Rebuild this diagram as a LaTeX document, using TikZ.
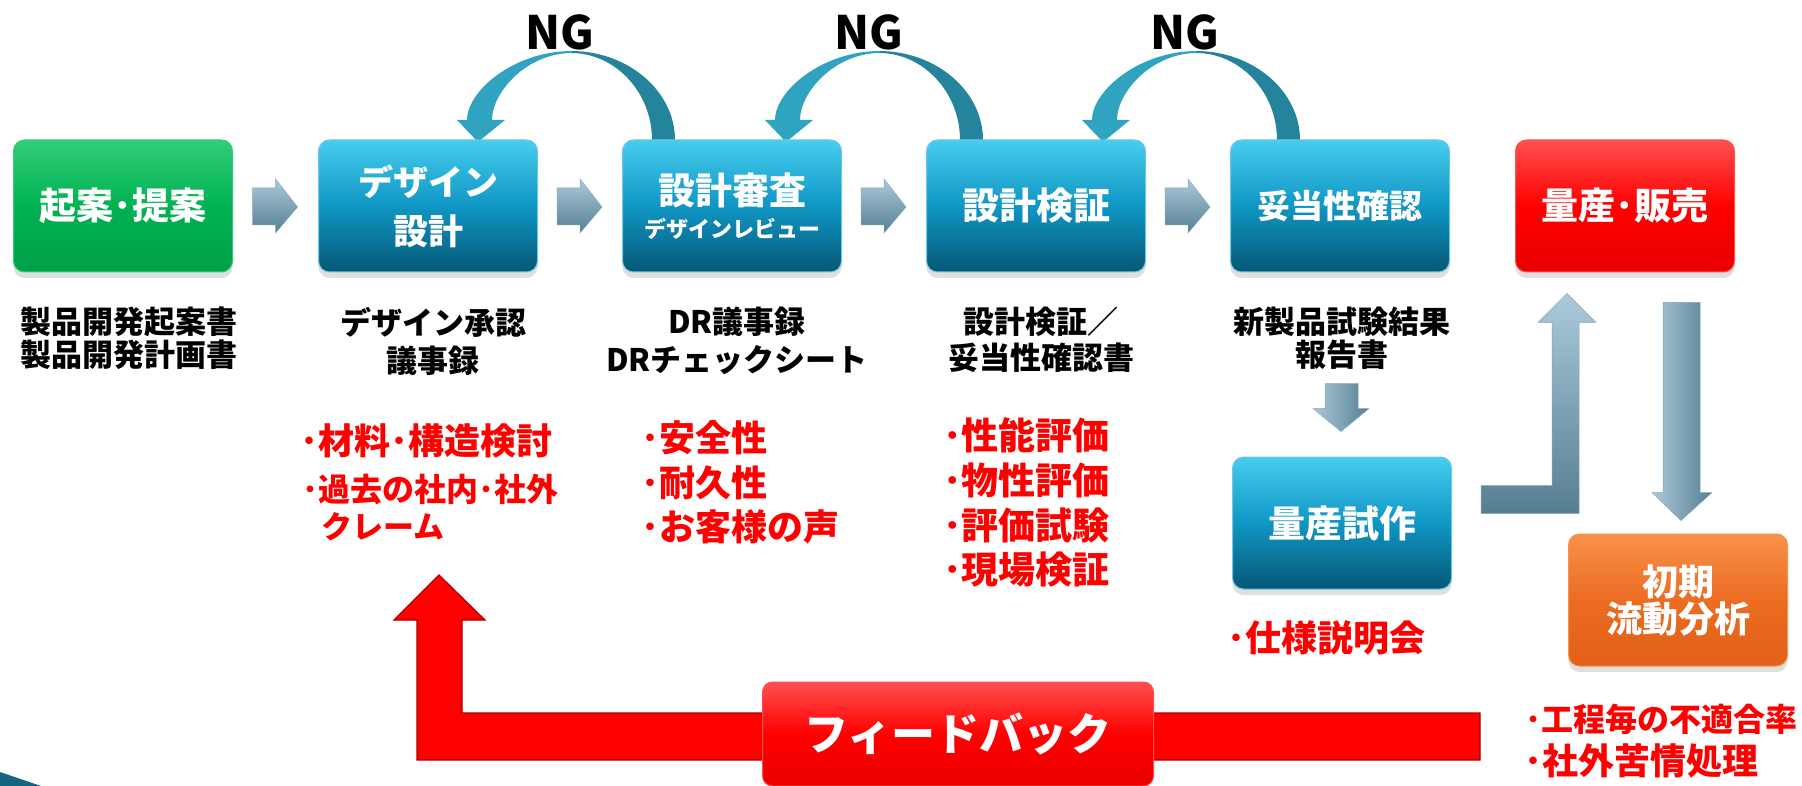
\documentclass[tikz,border=0pt]{standalone}
\usepackage{fontspec}
\setmainfont{Noto Sans CJK JP}
\usetikzlibrary{arrows.meta,calc,shadows}
\definecolor{bluetop}{RGB}{70,205,238}
\definecolor{bluemid}{RGB}{16,150,196}
\definecolor{bluebot}{RGB}{5,88,118}
\definecolor{blueedge}{RGB}{110,200,228}
\definecolor{grntop}{RGB}{50,205,120}
\definecolor{grnmid}{RGB}{0,178,82}
\definecolor{grnbot}{RGB}{0,160,72}
\definecolor{redtop}{RGB}{255,80,80}
\definecolor{redmid}{RGB}{255,0,0}
\definecolor{redbot}{RGB}{232,0,0}
\definecolor{orgtop}{RGB}{248,145,75}
\definecolor{orgmid}{RGB}{236,108,34}
\definecolor{orgbot}{RGB}{226,96,24}
\definecolor{nglight}{RGB}{47,163,192}
\definecolor{ngdark}{RGB}{36,132,156}
\definecolor{chevtop}{RGB}{170,202,218}
\definecolor{chevbot}{RGB}{86,126,146}
\definecolor{fbred}{RGB}{255,0,0}
\definecolor{fbdark}{RGB}{170,0,0}
\definecolor{txtred}{RGB}{255,0,0}
\definecolor{cornerteal}{RGB}{20,100,130}
\newcommand{\myfs}[2]{\fontsize{#1}{#2}\selectfont}
\begin{document}
\begin{tikzpicture}[x=1pt,y=-1pt,
  procbox/.style={rounded corners=11pt, minimum width=219pt, minimum height=132pt,
    inner sep=0pt, text=white, align=center,
    drop shadow={shadow xshift=0pt,shadow yshift=-6pt,opacity=0.25}},
  bluebox/.style={procbox, top color=bluetop, bottom color=bluebot, middle color=bluemid, draw=blueedge, line width=1pt},
  greenbox/.style={procbox, top color=grntop, bottom color=grnbot, middle color=grnmid, draw=grntop, line width=1pt},
  redbox/.style={procbox, top color=redtop, bottom color=redbot, middle color=redmid, draw=redtop, line width=1pt},
  orangebox/.style={procbox, top color=orgtop, bottom color=orgbot, middle color=orgmid, draw=orgtop, line width=1pt},
  lbl/.style={inner sep=0pt, align=center, text=black},
  redtxt/.style={inner sep=0pt, anchor=west, text=txtred},
  nglbl/.style={inner sep=0pt, text=black, font=\bfseries\myfs{46}{50}},
  ngleft/.style={fill=nglight},
  ngright/.style={fill=ngdark},
  chevron/.style={top color=chevtop, bottom color=chevbot, draw=chevbot!70, line width=0.5pt},
  steelv/.style={top color=chevtop, bottom color=chevbot, draw=chevbot!70, line width=0.5pt},
  steelh/.style={left color=chevtop, right color=chevbot, draw=chevbot!70, line width=0.5pt},
  fbarrow/.style={fill=fbred, draw=fbdark, line width=1.2pt},
  fbbox/.style={rounded corners=10pt, minimum width=391pt, minimum height=104pt, inner sep=0pt,
    top color=redtop, bottom color=redbot, middle color=redmid, draw=redtop, line width=1pt, text=white}
]
\useasboundingbox (0,0) rectangle (1802,786);
\fill[white] (0,0) rectangle (1802,786);

% NG loops (tail outer edge on the top of the next box)
\coordinate (t1) at (675,140);
\coordinate (t2) at (983,140);
\coordinate (t3) at (1300,140);
\foreach \t in {t1,t2,t3}{
  \begin{scope}[shift={(\t)}]
    \path[ngright] (0,6) -- (0,0) .. controls (0,-49) and (-47,-89) .. (-104,-89)
      -- (-104,-87) .. controls (-60,-87) and (-23,-48) .. (-23,0) -- (-23,6) -- cycle;
    \path[ngleft] (-103,-89) .. controls (-161,-89) and (-208,-49) .. (-208,-20)
      -- (-183,-20) .. controls (-183,-48) and (-148,-87) .. (-103,-87) -- cycle;
    \path[ngleft] (-218,-20) -- (-170,-20) -- (-197,2) -- cycle;
  \end{scope}
}
\node[nglbl] (ng1) at (560,32) {NG};
\node[nglbl] (ng2) at (869,32) {NG};
\node[nglbl] (ng3) at (1185,32) {NG};

% boxes
\node[greenbox, font=\bfseries\myfs{37}{40}] (b1) at (123,206) {起案･提案};
\node[bluebox, font=\bfseries\myfs{35}{49}] (b2) at (428,206) {デザイン\\設計};
\node[bluebox, font=\bfseries\myfs{37}{33}] (b3) at (732,206) {{\bfseries\myfs{37}{33}設計審査}\\{\bfseries\myfs{22}{33}デザインレビュー}};
\node[bluebox, font=\bfseries\myfs{37}{40}] (b4) at (1036,206) {設計検証};
\node[bluebox, font=\bfseries\myfs{33}{40}] (b5) at (1340,206) {妥当性確認};
\node[redbox, font=\bfseries\myfs{37}{40}] (b6) at (1625,206) {量産･販売};
\node[bluebox, font=\bfseries\myfs{37}{40}] (b7) at (1342,523) {量産試作};
\node[orangebox, font=\bfseries\myfs{36}{37}] (b8) at (1678,600) {初期\\流動分析};

% chevrons between the boxes
\foreach \a/\b in {b1/b2,b2/b3,b3/b4,b4/b5}{
  \begin{scope}[shift={($(\a.east)!0.5!(\b.west)$)}]
    \path[chevron] (-23,-18) -- (0,-18) -- (0,-27) -- (22,1) -- (0,27) -- (0,19) -- (-23,19) -- cycle;
  \end{scope}
}

% labels below the boxes
\node[lbl, font=\bfseries\myfs{31}{33}] (l1) at (129,338) {製品開発起案書\\製品開発計画書};
\node[lbl, font=\bfseries\myfs{31}{38}] (l2) at (433,341) {デザイン承認\\議事録};
\node[lbl, font=\bfseries\myfs{31}{38}] (l3) at (737,341) {DR議事録\\DRチェックシート};
\node[lbl, font=\bfseries\myfs{31}{36}] (l4) at (1041,340) {設計検証／\\妥当性確認書};
\node[lbl, font=\bfseries\myfs{31}{33}] (l5) at (1342,338) {新製品試験結果\\報告書};

% red lists
\node[redtxt, font=\bfseries\myfs{36}{40}] (r1a) at (300,441) {･材料･構造検討};
\node[redtxt, font=\bfseries\myfs{32}{40}] (r1b) at (302,489) {･過去の社内･社外};
\node[redtxt, font=\bfseries\myfs{31}{40}] (r1c) at (321,527) {クレーム};
\node[redtxt, font=\bfseries\myfs{36}{40}] (r2a) at (641,438) {･安全性};
\node[redtxt, font=\bfseries\myfs{36}{40}] (r2b) at (641,483) {･耐久性};
\node[redtxt, font=\bfseries\myfs{36}{40}] (r2c) at (641,527) {･お客様の声};
\node[redtxt, font=\bfseries\myfs{37}{40}] (r3a) at (943,435) {･性能評価};
\node[redtxt, font=\bfseries\myfs{37}{40}] (r3b) at (943,480) {･物性評価};
\node[redtxt, font=\bfseries\myfs{37}{40}] (r3c) at (943,525) {･評価試験};
\node[redtxt, font=\bfseries\myfs{37}{40}] (r3d) at (943,570) {･現場検証};
\node[redtxt, font=\bfseries\myfs{36}{40}] (r5) at (1227,638) {･仕様説明会};
\node[redtxt, font=\bfseries\myfs{32}{40}] (r6a) at (1525,719) {･工程毎の不適合率};
\node[redtxt, font=\bfseries\myfs{36}{40}] (r6b) at (1524,761) {･社外苦情処理};

% small arrow from report to trial production
\begin{scope}[shift={(b7.north)}]
  \path[steelh] (-17,-73) -- (16,-73) -- (16,-48) -- (27,-48) -- (-1,-25) -- (-29,-48) -- (-17,-48) -- cycle;
\end{scope}
% L arrow from trial production up to mass production
\begin{scope}[shift={(b6.south west)}]
  \path[steelv] (-34,213) -- (37,213) -- (37,50) -- (23,50) -- (52,21) -- (81,50) -- (64,50) -- (64,241) -- (-34,241) -- cycle;
\end{scope}
% arrow from mass production down to initial flow analysis
\begin{scope}[shift={(b6.south east)}]
  \path[steelh] (-72,30) -- (-35,30) -- (-35,220) -- (-23,220) -- (-54,248) -- (-83,220) -- (-72,220) -- cycle;
\end{scope}

% feedback arrow
\path[fbarrow] (417,760) -- (417,620) -- (394,620) -- (439,575) -- (485,620) -- (462,620) -- (462,713) -- (1480,713) -- (1480,760) -- cycle;
\node[fbbox, font=\bfseries\myfs{44}{48}] (fb) at (958,734) {フィードバック};

% corner decoration
\fill[cornerteal] (0,772) -- (41,786) -- (0,786) -- cycle;
\end{tikzpicture}
\end{document}
